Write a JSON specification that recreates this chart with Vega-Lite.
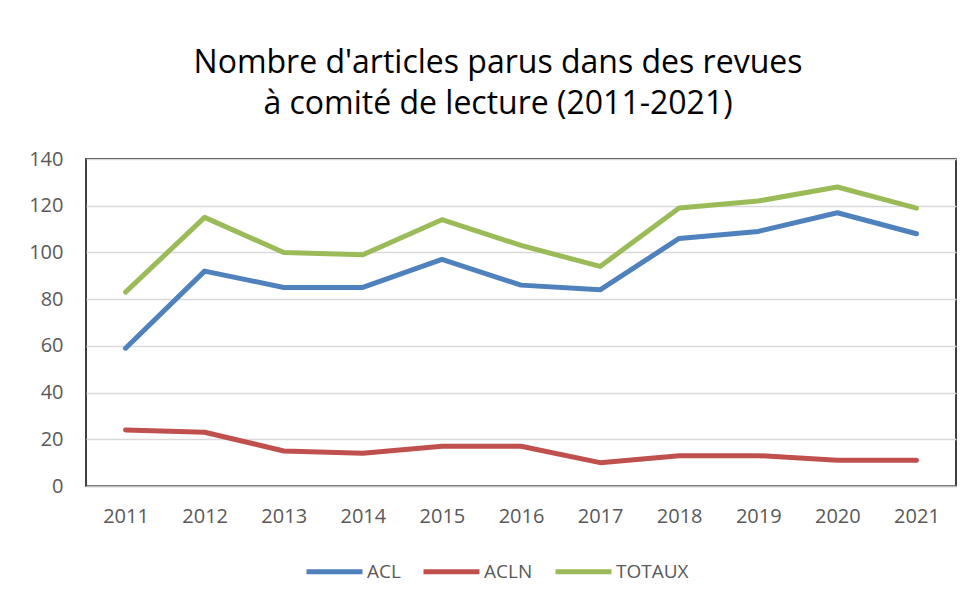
{
  "$schema": "https://vega.github.io/schema/vega-lite/v6.json",
  "width": 870,
  "height": 327,
  "autosize": {"type": "none"},
  "padding": {"left": 86, "top": 159, "right": 17, "bottom": 113},
  "background": "white",
  "title": {
    "text": ["Nombre d'articles parus dans des revues", "à comité de lecture (2011-2021)"],
    "font": "Open Sans",
    "fontSize": 32,
    "fontWeight": "normal",
    "color": "#000000",
    "lineHeight": 41,
    "anchor": "middle",
    "dx": -23,
    "offset": 28
  },
  "data": {
    "values": [
      {"annee": "2011", "serie": "ACL", "valeur": 59},
      {"annee": "2012", "serie": "ACL", "valeur": 92},
      {"annee": "2013", "serie": "ACL", "valeur": 85},
      {"annee": "2014", "serie": "ACL", "valeur": 85},
      {"annee": "2015", "serie": "ACL", "valeur": 97},
      {"annee": "2016", "serie": "ACL", "valeur": 86},
      {"annee": "2017", "serie": "ACL", "valeur": 84},
      {"annee": "2018", "serie": "ACL", "valeur": 106},
      {"annee": "2019", "serie": "ACL", "valeur": 109},
      {"annee": "2020", "serie": "ACL", "valeur": 117},
      {"annee": "2021", "serie": "ACL", "valeur": 108},
      {"annee": "2011", "serie": "ACLN", "valeur": 24},
      {"annee": "2012", "serie": "ACLN", "valeur": 23},
      {"annee": "2013", "serie": "ACLN", "valeur": 15},
      {"annee": "2014", "serie": "ACLN", "valeur": 14},
      {"annee": "2015", "serie": "ACLN", "valeur": 17},
      {"annee": "2016", "serie": "ACLN", "valeur": 17},
      {"annee": "2017", "serie": "ACLN", "valeur": 10},
      {"annee": "2018", "serie": "ACLN", "valeur": 13},
      {"annee": "2019", "serie": "ACLN", "valeur": 13},
      {"annee": "2020", "serie": "ACLN", "valeur": 11},
      {"annee": "2021", "serie": "ACLN", "valeur": 11},
      {"annee": "2011", "serie": "TOTAUX", "valeur": 83},
      {"annee": "2012", "serie": "TOTAUX", "valeur": 115},
      {"annee": "2013", "serie": "TOTAUX", "valeur": 100},
      {"annee": "2014", "serie": "TOTAUX", "valeur": 99},
      {"annee": "2015", "serie": "TOTAUX", "valeur": 114},
      {"annee": "2016", "serie": "TOTAUX", "valeur": 103},
      {"annee": "2017", "serie": "TOTAUX", "valeur": 94},
      {"annee": "2018", "serie": "TOTAUX", "valeur": 119},
      {"annee": "2019", "serie": "TOTAUX", "valeur": 122},
      {"annee": "2020", "serie": "TOTAUX", "valeur": 128},
      {"annee": "2021", "serie": "TOTAUX", "valeur": 119}
    ]
  },
  "mark": {"type": "line", "strokeWidth": 5, "strokeCap": "round", "strokeJoin": "round"},
  "encoding": {
    "x": {
      "field": "annee",
      "type": "ordinal",
      "scale": {"type": "point", "padding": 0.5},
      "axis": {
        "title": null,
        "labelAngle": 0,
        "labelFont": "Open Sans",
        "labelFontSize": 20,
        "labelColor": "#595959",
        "labelPadding": 20,
        "ticks": false,
        "domainColor": "#bfbfbf",
        "domainWidth": 1.5,
        "grid": false
      }
    },
    "y": {
      "field": "valeur",
      "type": "quantitative",
      "scale": {"domain": [0, 140], "nice": false},
      "axis": {
        "title": null,
        "values": [0, 20, 40, 60, 80, 100, 120, 140],
        "labelFont": "Open Sans",
        "labelFontSize": 20,
        "labelColor": "#595959",
        "labelPadding": 23,
        "ticks": false,
        "domain": false,
        "grid": true,
        "gridColor": "#d9d9d9",
        "gridWidth": 1.5
      }
    },
    "color": {
      "field": "serie",
      "type": "nominal",
      "scale": {"domain": ["ACL", "ACLN", "TOTAUX"], "range": ["#4F81BD", "#C0504D", "#9BBB59"]},
      "legend": {
        "title": null,
        "orient": "none",
        "legendX": 218,
        "legendY": 382,
        "padding": 0,
        "direction": "horizontal",
        "symbolType": "stroke",
        "symbolSize": 3136,
        "symbolStrokeWidth": 5,
        "labelFont": "Open Sans",
        "labelFontSize": 19,
        "labelColor": "#595959",
        "labelOffset": 2,
        "columnPadding": 12
      }
    }
  },
  "config": {
    "view": {"stroke": "#000000", "strokeWidth": 1.5}
  }
}
